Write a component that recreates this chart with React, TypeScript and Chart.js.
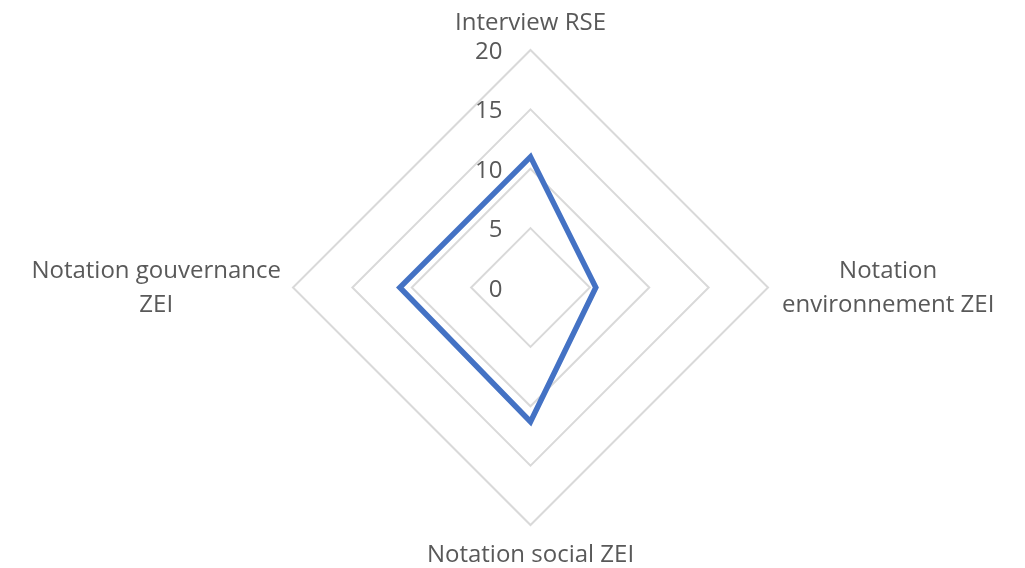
import React, { useEffect, useRef } from "react";
import { Chart, registerables } from "chart.js";

Chart.register(...registerables);

const categories: (string | string[])[] = [
  "Interview RSE",
  ["Notation", "environnement ZEI"],
  "Notation social ZEI",
  ["Notation gouvernance", "ZEI"],
];
const seriesValues: number[] = [11, 5.5, 11.3, 11];
const tickValues: number[] = [0, 5, 10, 15, 20];

const FONT = "24px 'Open Sans', sans-serif";
const TEXT_COLOR = "#595959";

const customLabels = {
  id: "customLabels",
  afterDraw(chart: any) {
    const scale = chart.scales.r;
    const ctx = chart.ctx as CanvasRenderingContext2D;
    ctx.save();
    ctx.font = FONT;
    ctx.fillStyle = TEXT_COLOR;
    ctx.textBaseline = "alphabetic";
    // tick labels
    ctx.textAlign = "right";
    tickValues.forEach((v) => {
      const y = scale.yCenter - scale.getDistanceFromCenterForValue(v);
      ctx.fillText(String(v), scale.xCenter - 28, y + 9);
    });
    // point labels
    ctx.textAlign = "center";
    const labels = chart.data.labels as (string | string[])[];
    labels.forEach((lab, i) => {
      const lines = Array.isArray(lab) ? lab : [lab];
      const p = scale.getPointPosition(i, scale.drawingArea);
      const w = Math.max(...lines.map((l) => ctx.measureText(l).width));
      const lh = 34;
      let cx = p.x;
      let firstBase = p.y;
      if (i === 0) {
        firstBase = p.y - 20 - (lines.length - 1) * lh;
      } else if (i === 2) {
        firstBase = p.y + 37;
      } else if (i === 1) {
        cx = p.x + 14 + w / 2;
        firstBase = p.y - 10;
      } else {
        cx = p.x - 12 - w / 2;
        firstBase = p.y - 10;
      }
      lines.forEach((l, k) => ctx.fillText(l, cx, firstBase + k * lh));
    });
    ctx.restore();
  },
};

export default function App() {
  const ref = useRef<HTMLCanvasElement>(null);
  useEffect(() => {
    if (!ref.current) return;
    const chart = new Chart(ref.current, {
      type: "radar",
      data: {
        labels: categories,
        datasets: [
          {
            label: "Série1",
            data: seriesValues,
            borderColor: "#4472C4",
            backgroundColor: "rgba(0,0,0,0)",
            borderWidth: 5.5,
            borderJoinStyle: "miter",
            pointRadius: 0,
            pointHoverRadius: 0,
            fill: false,
          },
        ],
      },
      options: {
        animation: false,
        responsive: true,
        maintainAspectRatio: false,
        layout: { padding: 0 },
        plugins: {
          legend: { display: false },
          tooltip: { enabled: false },
        },
        scales: {
          r: {
            min: 0,
            max: 20,
            ticks: { stepSize: 5, display: false },
            grid: { color: "#d9d9d9", lineWidth: 2 },
            angleLines: { display: false },
            pointLabels: { display: false },
            afterFit: (scale: any) => {
              scale.xCenter = 530.5;
              scale.yCenter = 287.5;
              scale.drawingArea = 237.5;
            },
          },
        },
      },
      plugins: [customLabels],
    });
    return () => chart.destroy();
  }, []);
  return (
    <div
      style={{
        position: "absolute",
        left: 0,
        top: 0,
        width: 1025,
        height: 568,
        background: "#ffffff",
      }}
    >
      <canvas ref={ref} />
    </div>
  );
}
